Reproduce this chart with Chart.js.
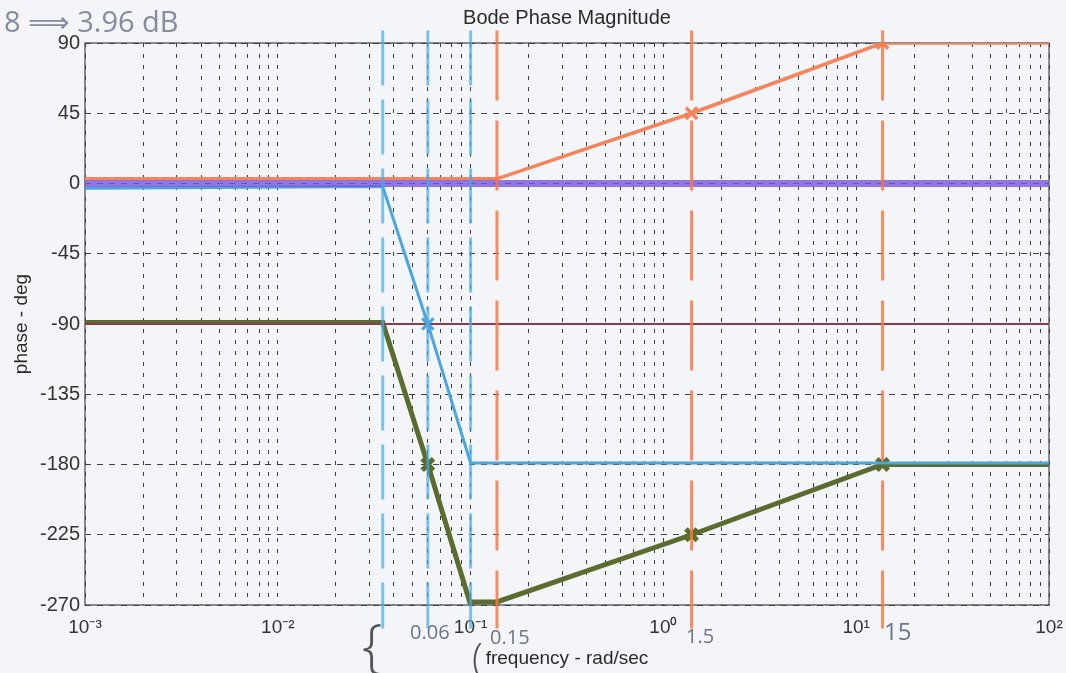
<!DOCTYPE html>
<html>
<head>
<meta charset="utf-8">
<script src="https://cdn.jsdelivr.net/npm/chart.js@4.4.1/dist/chart.umd.min.js"></script>
<style>
  html, body { margin: 0; padding: 0; background: #f4f5f9; }
  #wrap { width: 1066px; height: 673px; position: relative; }
</style>
</head>
<body>
<div id="wrap"><canvas id="bode"></canvas></div>
<script>
// axis ticks
const decades = [0.001, 0.01, 0.1, 1, 10, 100];
const decadeLabels = ["10⁻³", "10⁻²", "10⁻¹", "10⁰", "10¹", "10²"];
const minorSteps = [1, 2, 3, 4, 5, 6, 7, 8, 9];
const phaseTicks = [-270, -225, -180, -135, -90, -45, 0, 45, 90];

// hand drawn asymptotes (rad/sec, deg)
const orangeFreq = [0.001, 0.137, 1.4, 13.7, 100];
const orangePhase = [3, 3, 45, 90, 90];
const purpleFreq = [0.001, 100];
const purplePhase = [0, 0];
const blueFreq = [0.001, 0.035, 0.06, 0.1, 100];
const bluePhase = [-3, -2, -90, -179, -179];
const maroonFreq = [0.001, 100];
const maroonPhase = [-90, -90];
const greenFreq = [0.001, 0.035, 0.06, 0.099, 0.137, 1.4, 13.7, 100];
const greenPhase = [-89, -89, -180, -268, -268, -225, -180, -180];

// break frequencies marked with pen
const blueMarks = [0.035, 0.06, 0.1];
const orangeMarks = [0.137, 1.4, 13.7];
const markSpan = [98, -285];

function pts(xs, ys) {
    return xs.map((x, i) => ({ x: x, y: ys[i] }));
}

let xTickValues = [];
decades.slice(0, -1).forEach(d => {
    minorSteps.forEach(s => xTickValues.push(d * s));
});
xTickValues.push(decades[decades.length - 1]);

function decadeLabel(value) {
    for (let i = 0; i < decades.length; i++) {
        if (Math.abs(Math.log10(value) - Math.log10(decades[i])) < 1e-6) return decadeLabels[i];
    }
    return "";
}

const markSets = [];
blueMarks.forEach(f => markSets.push({
    data: pts([f, f], markSpan),
    borderColor: "rgba(74,170,228,0.7)",
    borderWidth: 3,
    borderDash: [55, 14],
    clip: false
}));
orangeMarks.forEach(f => markSets.push({
    data: pts([f, f], markSpan),
    borderColor: "rgba(250,120,70,0.85)",
    borderWidth: 3,
    borderDash: [70, 20],
    clip: false
}));

const paperBg = {
    id: "paperBg",
    beforeDraw(chart) {
        const ctx = chart.ctx;
        ctx.save();
        ctx.fillStyle = "#f4f5f9";
        ctx.fillRect(0, 0, chart.width, chart.height);
        ctx.restore();
    },
    beforeDatasetsDraw(chart) {
        const a = chart.chartArea, ctx = chart.ctx;
        ctx.save();
        ctx.strokeStyle = "#444";
        ctx.lineWidth = 1.2;
        ctx.strokeRect(a.left, a.top, a.right - a.left, a.bottom - a.top);
        ctx.restore();
    },
    afterDraw(chart) {
        const ctx = chart.ctx;
        ctx.save();
        ctx.fillStyle = "#858c9d";
        ctx.textBaseline = "alphabetic";
        ctx.font = '400 29px "Open Sans", "DejaVu Sans"';
        ctx.fillText("8 ⟹ 3.96 dB", 4, 32);
        ctx.fillStyle = "#6e7484";
        ctx.font = '400 20px "Open Sans", "DejaVu Sans"';
        ctx.fillText("0.06", 410, 639);
        ctx.fillText("0.15", 490, 644);
        ctx.fillText("1.5", 686, 643);
        ctx.font = '400 24px "Open Sans", "DejaVu Sans"';
        ctx.fillText("15", 884, 640);
        ctx.fillStyle = "#555";
        ctx.font = '300 58px "Open Sans", "DejaVu Sans"';
        ctx.fillText("{", 362, 666);
        ctx.font = '300 40px "Open Sans", "DejaVu Sans"';
        ctx.fillText("(", 472, 672);
        ctx.restore();
    }
};

const crossAt = idx => ctx => (idx.includes(ctx.dataIndex) ? 8 : 0);

new Chart(document.getElementById("bode"), {
    type: "line",
    data: {
        datasets: markSets.concat([
            { data: pts(purpleFreq, purplePhase), borderColor: "rgba(120,88,220,0.8)", borderWidth: 7 },
            { data: pts(orangeFreq, orangePhase), borderColor: "#f5845a", borderWidth: 3.5,
              pointRadius: crossAt([2, 3]) },
            { data: pts(blueFreq, bluePhase), borderColor: "#4aa6dc", borderWidth: 3,
              pointRadius: crossAt([2]) },
            { data: pts(maroonFreq, maroonPhase), borderColor: "#8a3a4c", borderWidth: 2 },
            { data: pts(greenFreq, greenPhase), borderColor: "#5b6c2f", borderWidth: 5,
              pointRadius: crossAt([2, 5, 6]) }
        ])
    },
    options: {
        responsive: true,
        maintainAspectRatio: false,
        animation: false,
        elements: {
            point: { radius: 0, pointStyle: "crossRot", borderWidth: 2 },
            line: { tension: 0 }
        },
        layout: { padding: { left: 0, right: 17, top: 0, bottom: 0 } },
        plugins: {
            legend: { display: false },
            tooltip: { enabled: false },
            title: {
                display: true,
                fullSize: false,
                text: "Bode Phase Magnitude",
                color: "#2a2a2a",
                font: { family: "Liberation Sans, Arial", size: 20, weight: "normal" },
                padding: { top: 6, bottom: 13 }
            }
        },
        scales: {
            x: {
                type: "logarithmic",
                min: 0.001,
                max: 100,
                afterBuildTicks: scale => { scale.ticks = xTickValues.map(v => ({ value: v })); },
                afterFit: scale => {
                    scale.height = 68;
                    scale.paddingLeft = 0;
                    scale.paddingRight = 0;
                },
                ticks: {
                    autoSkip: false,
                    maxRotation: 0,
                    padding: 11,
                    color: "#333",
                    font: { family: "Liberation Sans, Arial", size: 19 },
                    callback: value => decadeLabel(value)
                },
                grid: { color: "rgba(30,30,30,0.85)", lineWidth: 1, drawTicks: false },
                border: { display: false, dash: [4, 7] },
                title: {
                    display: true,
                    text: "frequency - rad/sec",
                    color: "#2a2a2a",
                    font: { family: "Liberation Sans, Arial", size: 19 },
                    padding: { top: 0, bottom: 3 }
                }
            },
            y: {
                min: -270,
                max: 90,
                afterBuildTicks: scale => { scale.ticks = phaseTicks.map(v => ({ value: v })); },
                afterFit: scale => { scale.width = 85; },
                ticks: {
                    padding: 5,
                    color: "#333",
                    font: { family: "Liberation Sans, Arial", size: 20 }
                },
                grid: { color: "rgba(30,30,30,0.85)", lineWidth: 1, drawTicks: false },
                border: { display: false, dash: [6, 6] },
                title: {
                    display: true,
                    text: "phase - deg",
                    color: "#2a2a2a",
                    font: { family: "Liberation Sans, Arial", size: 19 },
                    padding: { top: 10, bottom: 0 }
                }
            }
        }
    },
    plugins: [paperBg]
});
</script>
</body>
</html>
